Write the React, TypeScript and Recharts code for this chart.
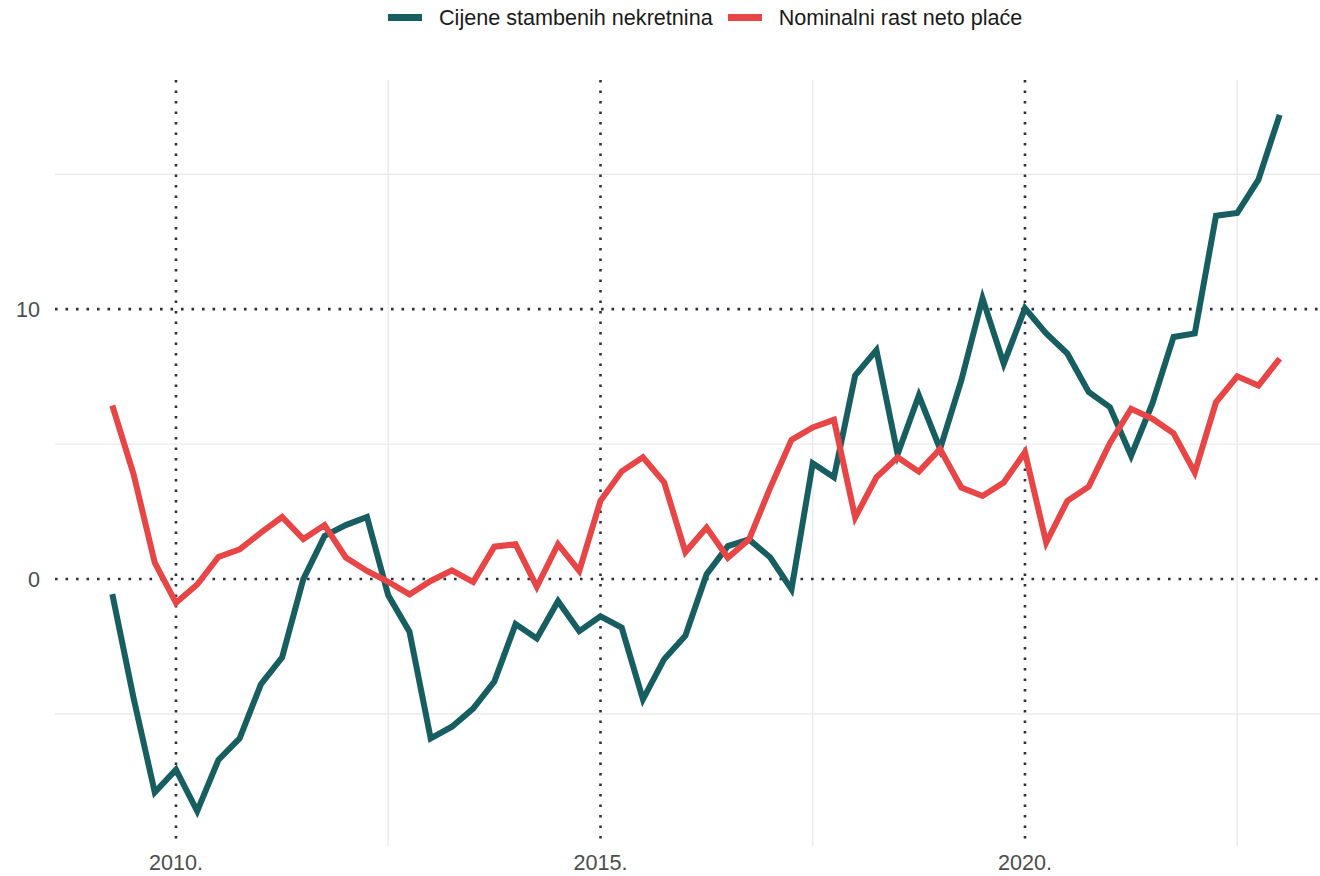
import React from 'react';
import { LineChart, Line, XAxis, YAxis, CartesianGrid, Legend } from 'recharts';

const quarters: number[] = [
  2009.25, 2009.5, 2009.75,
  2010, 2010.25, 2010.5, 2010.75,
  2011, 2011.25, 2011.5, 2011.75,
  2012, 2012.25, 2012.5, 2012.75,
  2013, 2013.25, 2013.5, 2013.75,
  2014, 2014.25, 2014.5, 2014.75,
  2015, 2015.25, 2015.5, 2015.75,
  2016, 2016.25, 2016.5, 2016.75,
  2017, 2017.25, 2017.5, 2017.75,
  2018, 2018.25, 2018.5, 2018.75,
  2019, 2019.25, 2019.5, 2019.75,
  2020, 2020.25, 2020.5, 2020.75,
  2021, 2021.25, 2021.5, 2021.75,
  2022, 2022.25, 2022.5, 2022.75,
  2023,
];

const housePrices: number[] = [
  -0.56, -4.4, -7.9,
  -7.06, -8.6, -6.7, -5.9,
  -3.9, -2.9, 0.0, 1.6,
  2.0, 2.3, -0.6, -1.95,
  -5.9, -5.47, -4.8, -3.8,
  -1.67, -2.2, -0.82, -1.93,
  -1.38, -1.8, -4.46, -2.97,
  -2.1, 0.18, 1.22, 1.47,
  0.8, -0.38, 4.29, 3.77,
  7.55, 8.48, 4.63, 6.8,
  4.82, 7.36, 10.4, 7.98,
  10.03, 9.1, 8.35, 6.93,
  6.37, 4.57, 6.5, 8.97,
  9.1, 13.46, 13.56, 14.8,
  17.2,
];

const wageGrowth: number[] = [
  6.43, 3.89, 0.61,
  -0.88, -0.2, 0.82, 1.1,
  1.72, 2.3, 1.48, 2.0,
  0.8, 0.3, -0.1, -0.57,
  -0.07, 0.32, -0.11, 1.2,
  1.29, -0.29, 1.29, 0.3,
  2.9, 3.99, 4.51, 3.58,
  1.0, 1.91, 0.79, 1.47,
  3.39, 5.16, 5.62, 5.9,
  2.28, 3.77, 4.51, 3.98,
  4.82, 3.39, 3.08, 3.58,
  4.7, 1.35, 2.9, 3.42,
  5.03, 6.31, 5.94, 5.4,
  3.95, 6.55, 7.51, 7.17,
  8.17,
];

const seriesNames = ['Cijene stambenih nekretnina', 'Nominalni rast neto plaće'];
const seriesColors = ['#175E60', '#E84646'];

const xTicks = [2010, 2015, 2020];
const xMinor = [2012.5, 2017.5, 2022.5];
const yTicks = [0, 10];
const yMinor = [-5, 5, 15];

const data = quarters.map((q, i) => ({ t: q, house: housePrices[i], wage: wageGrowth[i] }));

const FONT = '"Liberation Sans", Arial, Helvetica, sans-serif';

const LegendContent = () => (
  <div
    style={{
      position: 'absolute',
      left: 388,
      top: 0,
      height: 35,
      display: 'flex',
      alignItems: 'center',
      fontFamily: FONT,
      fontSize: 21.6,
      color: '#1a1a1a',
      whiteSpace: 'nowrap',
    }}
  >
    {seriesNames.map((n, i) => (
      <div key={n} style={{ display: 'flex', alignItems: 'center', marginRight: i === 0 ? 15 : 0 }}>
        <div style={{ width: 34, height: 7, background: seriesColors[i], marginRight: 17 }} />
        <span>{n}</span>
      </div>
    ))}
  </div>
);

export default function App() {
  return (
    <div style={{ position: 'absolute', left: 0, top: 0, width: 1320, height: 876, background: '#fff' }}>
      <LineChart
        width={1320}
        height={876}
        data={data}
        margin={{ top: 45, right: 0, bottom: 0, left: 0 }}
        style={{ fontFamily: FONT }}
      >
        <CartesianGrid
          stroke="#ebebeb"
          strokeWidth={1.4}
          horizontalValues={yMinor}
          verticalValues={xMinor}
        />
        <CartesianGrid
          stroke="#30303c"
          strokeWidth={2.6}
          strokeDasharray="2.6 7.9"
          horizontalValues={yTicks}
          verticalValues={xTicks}
        />
        <XAxis
          dataKey="t"
          type="number"
          domain={[2008.575, 2023.475]}
          allowDataOverflow
          ticks={xTicks}
          tickFormatter={(v: number) => `${v}.`}
          axisLine={false}
          tickLine={false}
          tickSize={6}
          tickMargin={3}
          height={30}
          interval={0}
          tick={{ fill: '#4d4d4d', fontSize: 21.6, fontFamily: FONT }}
        />
        <YAxis
          type="number"
          domain={[-9.89, 18.49]}
          allowDataOverflow
          ticks={yTicks}
          axisLine={false}
          tickLine={false}
          tickSize={6}
          tickMargin={9}
          width={55}
          interval={0}
          tick={{ fill: '#4d4d4d', fontSize: 21.6, fontFamily: FONT }}
        />
        <Legend verticalAlign="top" content={<LegendContent />} wrapperStyle={{ top: 0, left: 0, width: 1320, height: 35 }} />
        <Line
          dataKey="house"
          name={seriesNames[0]}
          stroke={seriesColors[0]}
          strokeWidth={6}
          dot={false}
          activeDot={false}
          isAnimationActive={false}
          strokeLinejoin="miter"
          strokeLinecap="butt"
        />
        <Line
          dataKey="wage"
          name={seriesNames[1]}
          stroke={seriesColors[1]}
          strokeWidth={6}
          dot={false}
          activeDot={false}
          isAnimationActive={false}
          strokeLinejoin="miter"
          strokeLinecap="butt"
        />
      </LineChart>
    </div>
  );
}
